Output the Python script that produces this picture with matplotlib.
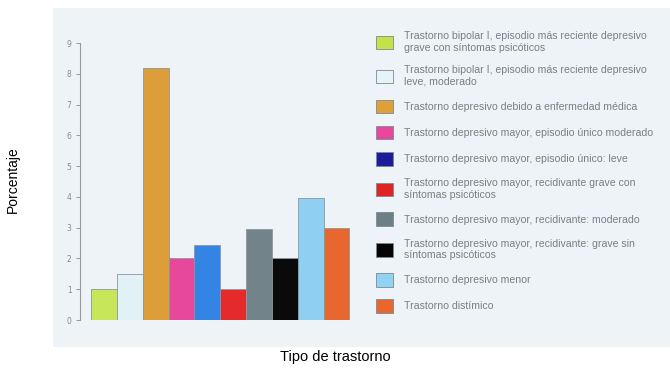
import matplotlib.pyplot as plt
from matplotlib.patches import Patch, Rectangle

# Datos del gráfico
trastornos = [
    'Trastorno bipolar I, episodio más reciente depresivo\ngrave con síntomas psicóticos',
    'Trastorno bipolar I, episodio más reciente depresivo\nleve, moderado',
    'Trastorno depresivo debido a enfermedad médica',
    'Trastorno depresivo mayor, episodio único moderado',
    'Trastorno depresivo mayor, episodio único: leve',
    'Trastorno depresivo mayor, recidivante grave con\nsíntomas psicóticos',
    'Trastorno depresivo mayor, recidivante: moderado',
    'Trastorno depresivo mayor, recidivante: grave sin\nsíntomas psicóticos',
    'Trastorno depresivo menor',
    'Trastorno distímico',
]
porcentajes = [1.0, 1.5, 8.2, 2.0, 2.45, 1.0, 2.95, 2.0, 3.95, 3.0]
colores_barras = ['#c8e65a', '#e2f1f5', '#dd9e3a', '#e8489c', '#3484e6',
                  '#e42a2a', '#72838a', '#0a0a0a', '#8fd0f2', '#e8672e']
colores_leyenda = ['#c2e24a', '#e6f4f8', '#e0a038', '#e8489c', '#1c1c9a',
                   '#e02424', '#6d7f85', '#050505', '#92d2f2', '#e8672e']
yticks = list(range(10))

W, H = 670, 369
fig = plt.figure(figsize=(W / 100, H / 100), dpi=100)

# Fondo del panel escaneado
fig.patches.append(Rectangle((53 / W, (H - 347) / H), (W - 53) / W, (347 - 8) / H,
                             transform=fig.transFigure, facecolor='#eef3f7',
                             edgecolor='none', zorder=-5))

ax = fig.add_axes([80 / W, (H - 320) / H, (352 - 80) / W, (320 - 43) / H])
ax.set_zorder(2)
ax.patch.set_alpha(0)

x = range(len(porcentajes))
ax.bar(x, porcentajes, width=1.0, color=colores_barras, edgecolor='#8c989c', linewidth=0.6)

ax.set_xlim(-0.93, 9.6)
ax.set_ylim(0, 9)
ax.set_yticks(yticks)
ax.set_yticklabels([str(t) for t in yticks], fontsize=5.5, color='#8a8a8a')
ax.tick_params(axis='y', length=3, width=0.7, color='#9a9a9a', pad=3)
ax.set_xticks([])
for s in ['top', 'right', 'bottom']:
    ax.spines[s].set_visible(False)
ax.spines['left'].set_color('#9a9a9a')
ax.spines['left'].set_linewidth(0.8)

# Leyenda
handles = [Patch(facecolor=c, edgecolor='#7a8a8e', linewidth=0.6) for c in colores_leyenda]
leg = fig.legend(handles, trastornos, loc='upper left', bbox_to_anchor=(376 / W, (H - 31) / H),
                 frameon=False, prop={'family': 'Liberation Sans', 'size': 7.6},
                 handlelength=1.6, handleheight=1.6,
                 handletextpad=1.1, labelspacing=1.2, borderaxespad=0, borderpad=0)
leg.set_zorder(3)
for t in leg.get_texts():
    t.set_color('#7a7f85')

fig.text(13 / W, (H - 180) / H, 'Porcentaje', rotation=90, ha='center', va='center',
         fontsize=10, family='Liberation Sans')
fig.text(335 / W, (H - 357) / H, 'Tipo de trastorno', ha='center', va='center',
         fontsize=10.5, family='Liberation Sans')

fig.savefig('out.png', dpi=100)
